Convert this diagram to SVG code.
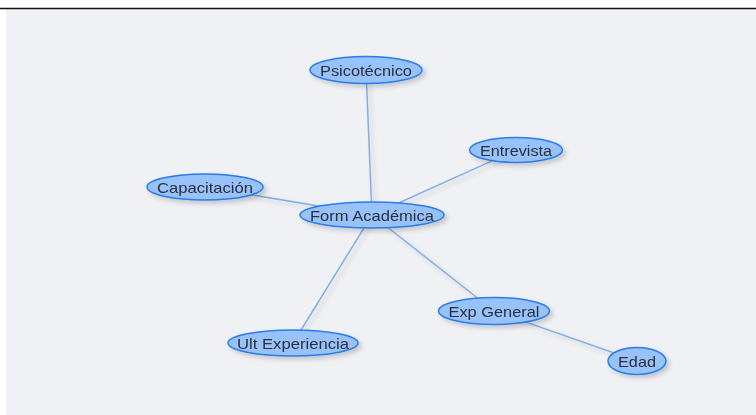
<svg xmlns="http://www.w3.org/2000/svg" width="756" height="415" viewBox="0 0 756 415">
<defs>
<filter id="sh" x="-30%" y="-50%" width="160%" height="220%">
<feGaussianBlur in="SourceAlpha" stdDeviation="2.5"/>
<feOffset dx="3" dy="3" result="b"/>
<feComponentTransfer><feFuncA type="linear" slope="0.18"/></feComponentTransfer>
<feMerge><feMergeNode/><feMergeNode in="SourceGraphic"/></feMerge>
</filter>
</defs>
<style>
.node ellipse{fill:#97c2fc;stroke:#2b7ce9;stroke-width:1.5}
.node text{font-family:"Liberation Sans",Arial,sans-serif;font-size:15px;fill:#2c2f3a;text-anchor:middle;dominant-baseline:central}
.edges line{stroke:#84aee6;stroke-width:1.5}
</style>
<rect x="0" y="0" width="756" height="415" fill="#ffffff"/>
<rect x="6" y="9" width="750" height="406" fill="#f0f1f4"/>
<line x1="0" y1="8.5" x2="756" y2="8.5" stroke="#111" stroke-width="1.5"/>
<g class="edges" filter="url(#sh)">
<line x1="372" y1="215" x2="366" y2="70"/>
<line x1="372" y1="215" x2="516" y2="150"/>
<line x1="372" y1="215" x2="205" y2="187"/>
<line x1="372" y1="215" x2="293" y2="343"/>
<line x1="372" y1="215" x2="494" y2="311"/>
<line x1="494" y1="311" x2="637" y2="361"/>
</g>
<g id="psicotecnico" class="node" filter="url(#sh)"><ellipse cx="366" cy="70" rx="56" ry="13.5"/><text x="366" y="70" textLength="92" lengthAdjust="spacingAndGlyphs">Psicotécnico</text></g>
<g id="entrevista" class="node" filter="url(#sh)"><ellipse cx="516" cy="150" rx="46.5" ry="12.5"/><text x="516" y="150" textLength="72" lengthAdjust="spacingAndGlyphs">Entrevista</text></g>
<g id="capacitacion" class="node" filter="url(#sh)"><ellipse cx="205" cy="187" rx="58" ry="13"/><text x="205" y="187" textLength="96" lengthAdjust="spacingAndGlyphs">Capacitación</text></g>
<g id="form-academica" class="node" filter="url(#sh)"><ellipse cx="372" cy="215" rx="72" ry="13"/><text x="372" y="215" textLength="124" lengthAdjust="spacingAndGlyphs">Form Académica</text></g>
<g id="ult-experiencia" class="node" filter="url(#sh)"><ellipse cx="293" cy="343" rx="65" ry="13"/><text x="293" y="343" textLength="112" lengthAdjust="spacingAndGlyphs">Ult Experiencia</text></g>
<g id="exp-general" class="node" filter="url(#sh)"><ellipse cx="494" cy="311" rx="55.5" ry="13.5"/><text x="494" y="311" textLength="91" lengthAdjust="spacingAndGlyphs">Exp General</text></g>
<g id="edad" class="node" filter="url(#sh)"><ellipse cx="637" cy="361" rx="29" ry="13.5"/><text x="637" y="361" textLength="38" lengthAdjust="spacingAndGlyphs">Edad</text></g>
</svg>
